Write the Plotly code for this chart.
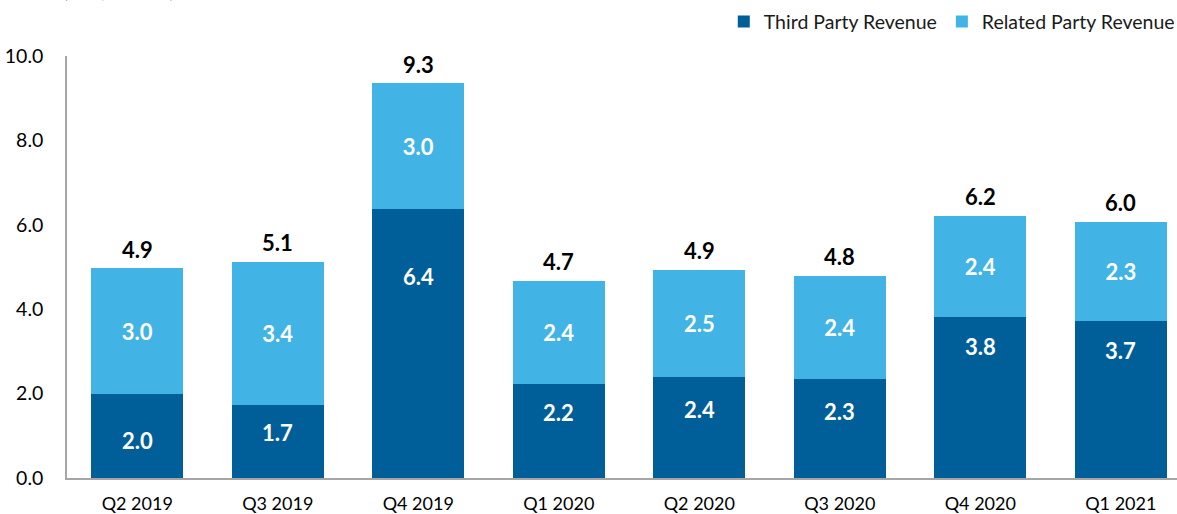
import plotly.graph_objects as go

quarters = ["Q2 2019", "Q3 2019", "Q4 2019", "Q1 2020", "Q2 2020", "Q3 2020", "Q4 2020", "Q1 2021"]
third_party = [1.99, 1.73, 6.37, 2.23, 2.39, 2.35, 3.82, 3.72]
related_party = [2.98, 3.39, 2.99, 2.44, 2.54, 2.44, 2.39, 2.35]
third_labels = ["2.0", "1.7", "6.4", "2.2", "2.4", "2.3", "3.8", "3.7"]
related_labels = ["3.0", "3.4", "3.0", "2.4", "2.5", "2.4", "2.4", "2.3"]
total_labels = ["4.9", "5.1", "9.3", "4.7", "4.9", "4.8", "6.2", "6.0"]
y_ticks = [0, 2, 4, 6, 8, 10]

# style: pixel offsets of dark-bar labels below their bar tops
dark_label_shift = [46, 28, 67, 29, 32, 33, 30, 29]

DARK = "#005F99"
LIGHT = "#41B4E5"
FONT = "Lato"
BAR_W = 0.655
LABEL_SIZE = 22

totals = [a + b for a, b in zip(third_party, related_party)]

fig = go.Figure()
fig.add_trace(go.Bar(
    x=quarters, y=third_party, name="Third Party Revenue",
    marker=dict(color=DARK, line=dict(width=0)), width=BAR_W,
    hoverinfo="skip",
))
fig.add_trace(go.Bar(
    x=quarters, y=related_party, name="Related Party Revenue",
    marker=dict(color=LIGHT, line=dict(width=0)), width=BAR_W,
    text=related_labels, textposition="inside", insidetextanchor="middle",
    textfont=dict(family=FONT, size=LABEL_SIZE, color="white", weight="bold"),
    hoverinfo="skip",
))

annotations = []
for q, v, lab, sh in zip(quarters, third_party, third_labels, dark_label_shift):
    annotations.append(dict(
        x=q, y=v, xref="x", yref="y", text=lab, showarrow=False,
        yanchor="middle", yshift=-sh,
        font=dict(family=FONT, size=LABEL_SIZE, color="white", weight="bold"),
    ))
for q, t, lab in zip(quarters, totals, total_labels):
    annotations.append(dict(
        x=q, y=t, xref="x", yref="y", text=lab, showarrow=False,
        yanchor="middle", yshift=19,
        font=dict(family=FONT, size=LABEL_SIZE, color="black", weight="bold"),
    ))
annotations.append(dict(
    x=0, xref="paper", xanchor="left", xshift=-6,
    y=1, yref="paper", yanchor="bottom", yshift=52,
    text="(US$, millions)", showarrow=False,
    font=dict(family=FONT, size=18, color="black"),
))

fig.update_layout(
    width=1177, height=514,
    margin=dict(l=67, r=0, t=56, b=36, autoexpand=False),
    barmode="stack",
    plot_bgcolor="white", paper_bgcolor="white",
    font=dict(family=FONT, size=18, color="black"),
    legend=dict(
        orientation="h", x=1.0025, xanchor="right", y=1.081, yanchor="middle",
        font=dict(family=FONT, size=19.5, color="#1a1a1a"),
        traceorder="normal", itemclick=False,
    ),
    annotations=annotations,
    showlegend=True,
)
fig.update_xaxes(
    range=[-0.5, 7.40], showline=True, linecolor="#A6A6A6", linewidth=1.5,
    showgrid=False, ticks="", tickfont=dict(family=FONT, size=18),
    ticklabelstandoff=9, fixedrange=True,
)
fig.update_yaxes(
    range=[0, 10], tickvals=y_ticks, tickformat=".1f",
    showline=True, linecolor="#A6A6A6", linewidth=1.5,
    showgrid=False, zeroline=False, ticks="",
    tickfont=dict(family=FONT, size=19.5), ticklabelstandoff=18, fixedrange=True,
)

fig.write_html(
    "out.html",
    config={"displayModeBar": False},
    post_script="document.body.style.margin='0';document.body.style.padding='0';",
)
